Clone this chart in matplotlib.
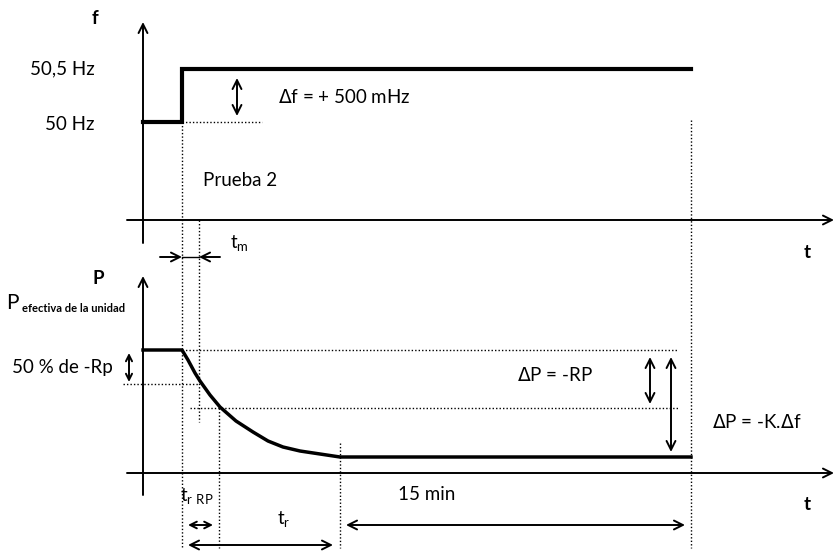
import matplotlib
matplotlib.use('Agg')
import matplotlib.pyplot as plt

# diagram coordinates (pixel-like units, y grows downward)
F_T = [143, 182, 182, 691]
F_Y = [122, 122, 69, 69]

P_T = [143, 182, 188, 195, 200, 210, 220, 236, 253, 268, 283, 300, 320, 340, 691]
P_Y = [350, 350, 360, 373, 381, 395, 407, 421, 432, 441, 447, 451, 454, 457, 457]

FONT = 'Lato'
FS = 13.5

fig = plt.figure(figsize=(8.34, 5.51), dpi=100)
ax = fig.add_axes([0, 0, 1, 1])
ax.set_xlim(0, 834)
ax.set_ylim(551, 0)
ax.axis('off')

k = dict(color='black')
dot = dict(color='black', lw=1.0, ls=(0, (1, 1.5)))


def arrow(x0, y0, x1, y1, style='->', lw=1.4, ms=16):
    ax.annotate('', xy=(x1, y1), xytext=(x0, y0),
                arrowprops=dict(arrowstyle=style, lw=lw, color='black',
                                shrinkA=0, shrinkB=0, mutation_scale=ms))


def txt(x, y, s, size=FS, **kw):
    ax.text(x, y, s, fontsize=size, family=FONT, va='center', **kw)


# ---- top panel: frequency
arrow(143, 243, 143, 22)
arrow(127, 220, 834, 220)
ax.plot(F_T, F_Y, lw=3, **k, solid_joinstyle='miter')
ax.plot([182, 262], [122, 122], **dot)
arrow(237, 78, 237, 116, style='<->')
txt(278, 97, r'$\Delta$f = + 500 mHz')
txt(203, 181, 'Prueba 2')
txt(95, 69, '50,5 Hz', ha='right')
txt(95, 125, '50 Hz', ha='right')
txt(95, 18, 'f', weight='bold', ha='center')
txt(807, 253, 't', weight='bold', ha='center')

# tm markers
ax.plot([182, 182], [122, 548], **dot)
ax.plot([199, 199], [220, 422], **dot)
ax.plot([182, 199], [257, 257], color='black', lw=1.0)
arrow(160, 257, 182, 257)
arrow(220, 257, 199, 257)
txt(230, 243, r't$\mathregular{_m}$')

ax.plot([691, 691], [120, 548], **dot)

# ---- bottom panel: power
arrow(143, 495, 143, 276)
arrow(127, 473, 834, 473)
ax.plot(P_T, P_Y, lw=2.5, **k, solid_joinstyle='round')
ax.plot([182, 678], [350, 350], **dot)
ax.plot([123, 199], [384, 384], **dot)
ax.plot([190, 678], [408, 408], **dot)
ax.plot([219, 219], [408, 548], **dot)
ax.plot([340, 340], [443, 548], **dot)

txt(98, 278, 'P', weight='bold', ha='center')
txt(6, 303, 'P', size=15)
txt(22, 309, 'efectiva de la unidad', size=8, weight='bold')
txt(113, 367, '50 % de -Rp', ha='right')
arrow(129, 353, 129, 382, style='<->', ms=11)
txt(517, 375, r'$\Delta$P = -RP')
arrow(650, 357, 650, 404, style='<->')
arrow(671, 357, 671, 452, style='<->')
txt(712, 422, r'$\Delta$P = -K.$\Delta$f')
txt(807, 505, 't', weight='bold', ha='center')

# ---- time intervals
txt(180, 496, r't$\mathregular{_{r\ RP}}$')
arrow(188, 525, 213, 525, style='<->', ms=12)
txt(277, 519, r't$\mathregular{_r}$')
arrow(188, 545, 333, 545, style='<->')
txt(398, 494, '15 min')
arrow(346, 525, 685, 525, style='<->')

fig.savefig('out.png', dpi=100)
plt.close(fig)
